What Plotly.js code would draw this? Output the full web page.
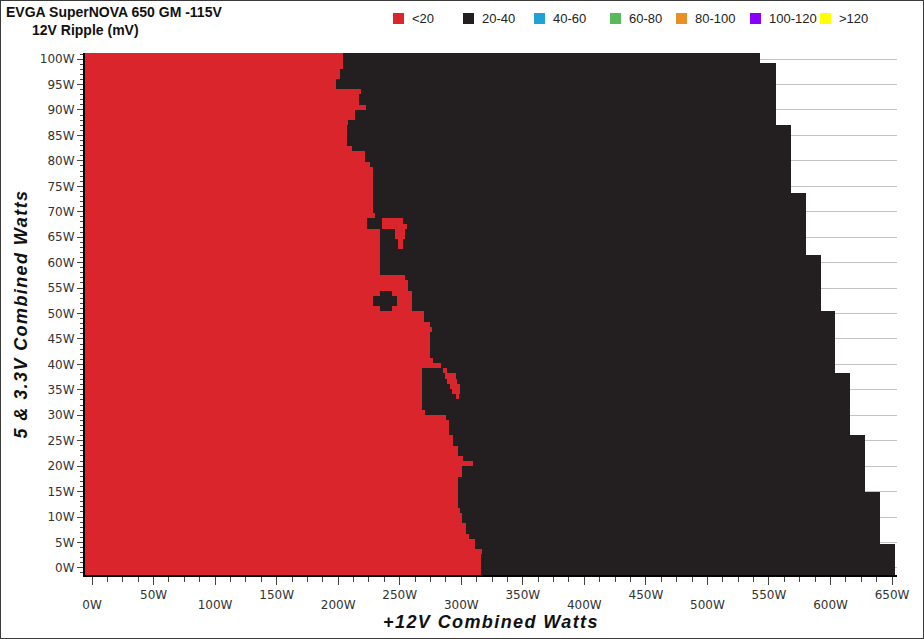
<!DOCTYPE html>
<html><head><meta charset="utf-8">
<script src="https://cdn.plot.ly/plotly-3.0.1.min.js"></script>
<style>
html,body{margin:0;padding:0;background:#fff;}
#wrap{position:relative;width:924px;height:639px;}
#chart{width:924px;height:639px;}
#frame{position:absolute;left:0;top:0;width:924px;height:639px;box-sizing:border-box;border:1px solid #3a3a3a;pointer-events:none;}
.xtitle,.ytitle{letter-spacing:1.4px;}
</style></head><body>
<div id="wrap"><div id="chart"></div><div id="frame"></div></div>
<script>
// 5V & 3.3V combined load of each test row (W)
const rowWatts = [0,1,2,3,4,5,6,7,8,9,10,11,12,13,14,15,16,17,18,19,20,21,22,23,24,25,26,27,28,29,30,31,32,33,34,35,36,37,38,39,40,41,42,43,44,45,46,47,48,49,50,51,52,53,54,55,56,57,58,59,60,61,62,63,64,65,66,67,68,69,70,71,72,73,74,75,76,77,78,79,80,81,82,83,84,85,86,87,88,89,90,91,92,93,94,95,96,97,98,99,100];
// +12V load where the "<20 mV" region ends on each row (W)
const redEnd = [316,316,316,316,317,311,311,306,303.5,303.5,
 300.4,300.4,299,297.4,297.4,297.4,297.4,297.4,297.4,300.6,
 300.6,309.3,301.4,297.4,297.4,293.3,293.3,290.1,290.1,290.1,
 287.6,270.6,267.9,267.9,267.9,267.9,267.9,267.9,267.9,267.9,
 283.6,277.1,274.6,274.6,274.6,274.6,274.6,276,274.6,269.7,
 269.7,234,228.1,228.1,234,256.7,256.7,254.3,234,234,
 234,234,234,234,234,234,234,223.2,223.2,229.9,
 228.3,228.3,228.3,228.3,228.3,228.3,228.3,228.3,228.3,225.9,
 221.8,221.8,211.2,207.2,207.2,207.2,207.2,208,213.7,213.7,
 222.6,216.9,216.9,218.6,198.2,198.2,201.5,201.5,203.9,203.9,
 203.9];
// maximum +12V load tested on each row (W)
const maxLoad = [652,652,652,652,652,652,640,640,640,640,
 640,640,640,640,640,640,628,628,628,628,
 628,628,628,628,628,628,628,616,616,616,
 616,616,616,616,616,616,616,616,616,604,
 604,604,604,604,604,604,604,604,604,604,
 604,592,592,592,592,592,592,592,592,592,
 592,592,580,580,580,580,580,580,580,580,
 580,580,580,580,568,568,568,568,568,568,
 568,568,568,568,568,568,568,556,556,556,
 556,556,556,556,556,556,556,556,556,543,
 543];
// rows where a second "<20 mV" pocket appears inside the 20-40 mV region
const islandRows     = [34,35,36,37,38,39,51,52,53,54,63,64,65,66,67,68];
const islandBlackEnd = [295.7,292.5,290.9,288.4,286.8,285.2,243.5,247.6,247.6,243.5,248.6,248.6,246.2,246.2,235.4,235.4];
const islandRedEnd   = [298.2,299,299,296.6,295.7,288.4,259.7,259.7,259.7,259.7,252.7,252.7,254.3,254.3,255.7,252.7];

const legendLabels = ['&lt;20','20-40','40-60','60-80','80-100','100-120','&gt;120'];
const legendColors = ['#d9252b','#231f20','#1fa2d6','#5cb85c','#e98f26','#8a00ff','#ffff00'];

const xTickVals = [0,50,100,150,200,250,300,350,400,450,500,550,600,650];
const xTickLabels = ['0W','50W','100W','150W','200W','250W','300W','350W','400W','450W','500W','550W','600W','650W'];
const yTickVals = [0,5,10,15,20,25,30,35,40,45,50,55,60,65,70,75,80,85,90,95,100];
const yTickLabels = ['0W','5W','10W','15W','20W','25W','30W','35W','40W','45W','50W','55W','60W','65W','70W','75W','80W','85W','90W','95W','100W'];

// ---- build the grid ----
const xRange = [-5.7, 654], yRange = [-1.4, 101.2];
const RED = legendColors[0], BLACK = legendColors[1];
const es = new Set([xRange[0]]);
rowWatts.forEach((w,i)=>{ es.add(redEnd[i]); es.add(maxLoad[i]); });
islandRows.forEach((r,k)=>{ es.add(islandBlackEnd[k]); es.add(islandRedEnd[k]); });
const xEdges = [...es].sort((a,b)=>a-b);
const rowH = (yRange[1]-yRange[0])/rowWatts.length;
const yEdges = [];
for (let k=0;k<=rowWatts.length;k++) yEdges.push(yRange[0]+k*rowH);
const z = rowWatts.map((w,i)=>{
  const k = islandRows.indexOf(w);
  const row = [];
  for (let j=0;j<xEdges.length-1;j++){
    const m = (xEdges[j]+xEdges[j+1])/2;
    let v;
    if (m > maxLoad[i]) v = null;
    else if (m < redEnd[i]) v = 0;
    else if (k>=0 && m < islandBlackEnd[k]) v = 1;
    else if (k>=0 && m < islandRedEnd[k]) v = 0;
    else v = 1;
    row.push(v);
  }
  return row;
});

const trace = {
  type:'heatmap', x:xEdges, y:yEdges, z:z, zmin:0, zmax:1, zsmooth:false,
  colorscale:[[0,RED],[0.5,RED],[0.5,BLACK],[1,BLACK]], showscale:false, hoverinfo:'skip'
};
// invisible helper trace so the second (lower label row) axis is drawn
const helper = {type:'scatter', x:[xRange[0]], y:[yRange[0]], xaxis:'x2', yaxis:'y', mode:'markers',
  marker:{opacity:0}, hoverinfo:'skip', showlegend:false};

// pixel helpers for the plot area (l=85, r=897, t=53, b=575)
const PL=85, PR=897, PT=53, PB=575;
const px2x = px => (px-PL)/(PR-PL);
const py2y = py => (PB-py)/(PB-PT);

const legendLeft = [393,463,534,610,676,750,820];
const shapes = [], annotations = [];
legendLabels.forEach((lab,i)=>{
  const L = legendLeft[i];
  shapes.push({type:'rect', xref:'paper', yref:'paper', x0:px2x(L), x1:px2x(L+11), y0:py2y(24), y1:py2y(13),
    fillcolor:legendColors[i], line:{width:0}});
  annotations.push({xref:'paper', yref:'paper', x:px2x(L+17), y:py2y(18.5), xanchor:'left', yanchor:'middle',
    text:lab, showarrow:false, font:{family:'Liberation Sans, Arial, sans-serif', size:13, color:'#222'}});
});
annotations.push({xref:'paper', yref:'paper', x:px2x(30), y:py2y(30), xanchor:'left', yanchor:'middle',
  text:'12V Ripple (mV)', showarrow:false, font:{family:'Liberation Sans, Arial, sans-serif', size:14, weight:'bold', color:'#111'}});

const tickFont = {family:'DejaVu Sans, sans-serif', size:12, color:'#333'};
const titleFont = {family:'Liberation Sans, Arial, sans-serif', size:18, weight:'bold', style:'italic', color:'#111'};

const lowerVals = xTickVals.filter((v,i)=>i%2===0), lowerText = xTickLabels.filter((v,i)=>i%2===0);

const layout = {
  width:924, height:639,
  margin:{l:PL, r:924-PR, t:PT, b:639-PB, pad:0},
  paper_bgcolor:'#fff', plot_bgcolor:'#fff',
  showlegend:false,
  title:{text:'EVGA SuperNOVA 650 GM -115V', font:{family:'Liberation Sans, Arial, sans-serif', size:14, weight:'bold', color:'#111'},
    xref:'container', yref:'container', x:6/924, xanchor:'left', y:1-12/639, yanchor:'middle'},
  xaxis:{range:xRange, tickmode:'array', tickvals:xTickVals,
    ticktext:xTickVals.map((v,i)=> i%2===1 ? xTickLabels[i] : ''),
    ticks:'outside', ticklen:8, tickwidth:1, tickcolor:'#444',
    showline:true, linecolor:'#000', linewidth:2, showgrid:false, zeroline:false,
    tickfont:tickFont,
    minor:{tickmode:'linear', tick0:0, dtick:12.5, ticks:'outside', ticklen:5, tickcolor:'#444', showgrid:false},
    title:{text:'+12V Combined Watts', font:titleFont, standoff:14}, fixedrange:true},
  xaxis2:{range:xRange, overlaying:'x', anchor:'y', side:'bottom', tickmode:'array', tickvals:lowerVals, ticktext:lowerText,
    ticks:'', showline:false, showgrid:false, zeroline:false, tickfont:tickFont, ticklabelstandoff:21, fixedrange:true},
  yaxis:{range:yRange, tickmode:'array', tickvals:yTickVals, ticktext:yTickLabels,
    ticks:'outside', ticklen:6, tickwidth:1, tickcolor:'#444',
    showline:true, linecolor:'#000', linewidth:2, showgrid:true, gridcolor:'#c3c3c3', gridwidth:1, zeroline:false,
    tickfont:tickFont,
    minor:{tickmode:'linear', tick0:0, dtick:1, ticks:'outside', ticklen:3, tickcolor:'#444', showgrid:false},
    title:{text:'5 &amp; 3.3V Combined Watts', font:titleFont, standoff:8}, fixedrange:true},
  shapes:shapes, annotations:annotations
};
Plotly.newPlot('chart', [trace, helper], layout, {staticPlot:true, displayModeBar:false});
</script>
</body></html>
